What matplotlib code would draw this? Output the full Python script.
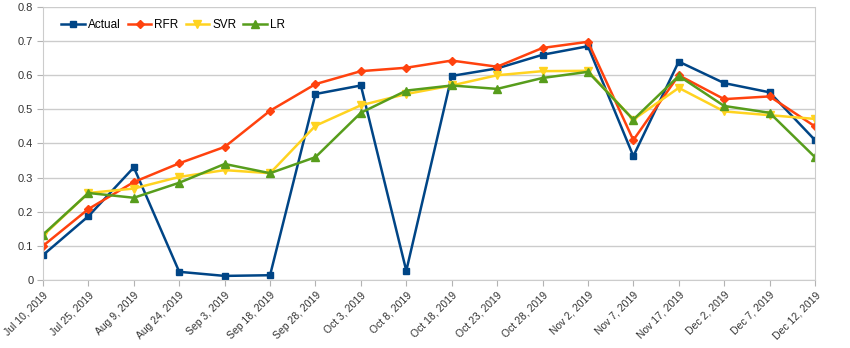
import matplotlib
matplotlib.use("Agg")
import matplotlib.pyplot as plt

dates = ["Jul 10, 2019", "Jul 25, 2019", "Aug 9, 2019", "Aug 24, 2019", "Sep 3, 2019",
         "Sep 18, 2019", "Sep 28, 2019", "Oct 3, 2019", "Oct 8, 2019", "Oct 18, 2019",
         "Oct 23, 2019", "Oct 28, 2019", "Nov 2, 2019", "Nov 7, 2019", "Nov 17, 2019",
         "Dec 2, 2019", "Dec 7, 2019", "Dec 12, 2019"]

actual = [0.073, 0.187, 0.330, 0.024, 0.012, 0.014, 0.545, 0.570, 0.027, 0.598,
          0.620, 0.660, 0.685, 0.363, 0.640, 0.577, 0.550, 0.410]
rfr = [0.100, 0.208, 0.287, 0.342, 0.390, 0.496, 0.574, 0.612, 0.622, 0.643,
       0.625, 0.680, 0.698, 0.410, 0.600, 0.530, 0.538, 0.450]
svr = [0.130, 0.255, 0.268, 0.302, 0.322, 0.313, 0.452, 0.512, 0.545, 0.570,
       0.600, 0.612, 0.613, 0.470, 0.563, 0.494, 0.483, 0.472]
lr = [0.133, 0.255, 0.241, 0.285, 0.340, 0.313, 0.360, 0.490, 0.555, 0.570,
      0.560, 0.592, 0.610, 0.470, 0.598, 0.510, 0.490, 0.360]

plt.rcParams["font.family"] = ["Liberation Sans", "DejaVu Sans"]

fig = plt.figure(figsize=(8.5, 3.48), dpi=100)
ax = fig.add_axes([0.0506, 0.1954, 0.9082, 0.7845])

x = list(range(len(dates)))
series = [
    ("Actual", actual, "#004586", "s", 5),
    ("RFR", rfr, "#ff420e", "D", 4),
    ("SVR", svr, "#ffd320", "v", 5.5),
    ("LR", lr, "#579d1c", "^", 5.5),
]
for name, vals, col, mk, ms in series:
    ax.plot(x, vals, color=col, marker=mk, markersize=ms, linewidth=1.8, label=name)

ax.set_xlim(0, len(dates) - 1)
ax.set_ylim(0, 0.8)
ax.set_yticks([0, 0.1, 0.2, 0.3, 0.4, 0.5, 0.6, 0.7, 0.8])
ax.set_yticklabels(["0", "0.1", "0.2", "0.3", "0.4", "0.5", "0.6", "0.7", "0.8"])
ax.set_xticks(x)
ax.set_xticklabels(dates, rotation=45, ha="right", rotation_mode="anchor")
ax.tick_params(axis="both", colors="#b3b3b3", labelcolor="#333333", labelsize=8, length=4, pad=3)
ax.tick_params(axis="x", labelsize=7.5)
ax.grid(axis="y", color="#cccccc", linewidth=1)
ax.set_axisbelow(True)
for s in ax.spines.values():
    s.set_color("#cccccc")
ax.spines["top"].set_visible(False)

ax.legend(loc="upper left", bbox_to_anchor=(0.01, 0.995), ncol=4, frameon=False,
          fontsize=8.5, handlelength=2.0, columnspacing=0.6, handletextpad=0.25)

fig.savefig("out.png", dpi=100)
